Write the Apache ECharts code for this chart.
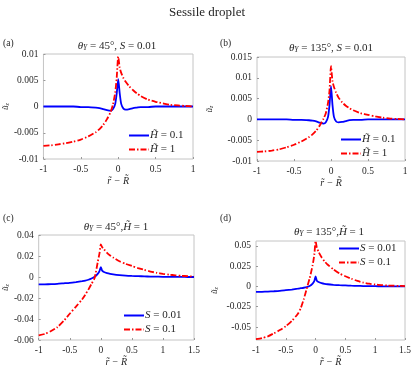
<!DOCTYPE html>
<html>
<head>
<meta charset="utf-8">
<script src="https://cdn.jsdelivr.net/npm/echarts@6/dist/echarts.min.js"></script>
<style>
  html, body { margin: 0; padding: 0; background: #fff; }
  #main { width: 415px; height: 368px; }
</style>
</head>
<body>
<div id="main"></div>
<script>
// x positions (r - R) for the top panels and the bottom panels
var xTop = [-1, -0.9, -0.8, -0.7, -0.6, -0.5, -0.4, -0.3, -0.25, -0.2, -0.15, -0.1, -0.07, -0.04, -0.02, 0,
  0.02, 0.04, 0.07, 0.1, 0.15, 0.2, 0.25, 0.3, 0.4, 0.5, 0.6, 0.7, 0.8, 0.9, 1];
var xBot = [-1, -0.9, -0.8, -0.7, -0.6, -0.5, -0.4, -0.3, -0.25, -0.2, -0.15, -0.1, -0.05, -0.02, 0,
  0.02, 0.05, 0.1, 0.15, 0.2, 0.3, 0.4, 0.5, 0.6, 0.7, 0.8, 0.9, 1, 1.1, 1.2, 1.3, 1.4, 1.5];

// (a) theta = 45, S = 0.01
var aH01 = [0, 0, 0, 0, 0, -0.0001, -0.0001, -0.0002, -0.0003, -0.0005, -0.0007, -0.0008, -0.0005, 0.0005, 0.0025, 0.0052,
  0.0025, 0.0005, -0.0004, -0.0006, -0.0005, -0.0003, -0.0002, -0.0001, -0.0001, 0, 0, 0, 0, 0, 0];
var aH1 = [-0.0075, -0.0074, -0.0072, -0.0070, -0.0067, -0.0063, -0.0057, -0.0049, -0.0043, -0.0035, -0.0024, -0.0010, 0.0004, 0.0027, 0.0055, 0.0095,
  0.0074, 0.0064, 0.0054, 0.0047, 0.0038, 0.0031, 0.0025, 0.0020, 0.0013, 0.0009, 0.0006, 0.0003, 0.0002, 0.0001, 0];
// (b) theta = 135, S = 0.01
var bH01 = [0, 0, 0, 0, 0, -0.0001, -0.0001, -0.0002, -0.0003, -0.0005, -0.0008, -0.0010, -0.0007, 0.0006, 0.0035, 0.0080,
  0.0035, 0.0006, -0.0005, -0.0007, -0.0006, -0.0004, -0.0002, -0.0001, -0.0001, 0, 0, 0, 0, 0, 0];
var bH1 = [-0.0078, -0.0077, -0.0075, -0.0072, -0.0067, -0.0061, -0.0053, -0.0043, -0.0036, -0.0027, -0.0014, 0.0002, 0.0015, 0.0040, 0.0070, 0.0128,
  0.0092, 0.0078, 0.0064, 0.0053, 0.0041, 0.0033, 0.0027, 0.0022, 0.0015, 0.0011, 0.0007, 0.0004, 0.0002, 0.0001, 0];
// (c) theta = 45, H = 1
var cS001 = [-0.0071, -0.0070, -0.0068, -0.0065, -0.0060, -0.0055, -0.0048, -0.0040, -0.0035, -0.0026, -0.0014, 0.0002, 0.0030, 0.0058, 0.0095,
  0.0062, 0.0048, 0.0037, 0.0030, 0.0025, 0.0018, 0.0013, 0.0010, 0.0008, 0.0006, 0.0004, 0.0003, 0.0002, 0.0002, 0.0001, 0.0001, 0, 0];
var cS01 = [-0.0556, -0.0542, -0.0515, -0.0478, -0.0420, -0.0350, -0.0282, -0.0212, -0.0168, -0.0120, -0.0066, -0.0010, 0.0140, 0.0230, 0.0310,
  0.0285, 0.0265, 0.0230, 0.0205, 0.0185, 0.0150, 0.0125, 0.0105, 0.0085, 0.0068, 0.0052, 0.0040, 0.0030, 0.0022, 0.0016, 0.0011, 0.0008, 0.0005];
// (d) theta = 135, H = 1
var dS001 = [-0.0068, -0.0066, -0.0063, -0.0059, -0.0054, -0.0046, -0.0038, -0.0028, -0.0022, -0.0016, -0.0008, 0.0005, 0.0035, 0.0070, 0.0125,
  0.0072, 0.0055, 0.0042, 0.0033, 0.0027, 0.0020, 0.0015, 0.0012, 0.0009, 0.0007, 0.0005, 0.0004, 0.0003, 0.0002, 0.0001, 0.0001, 0, 0];
var dS01 = [-0.0650, -0.0638, -0.0615, -0.0578, -0.0538, -0.0490, -0.0425, -0.0340, -0.0270, -0.0160, -0.0030, 0.0100, 0.0260, 0.0400, 0.0560,
  0.0480, 0.0425, 0.0360, 0.0310, 0.0270, 0.0210, 0.0160, 0.0125, 0.0095, 0.0068, 0.0048, 0.0034, 0.0024, 0.0017, 0.0012, 0.0009, 0.0007, 0.0005];

var dTicks = [-0.05, -0.025, 0, 0.025, 0.05];

var serif = 'Liberation Serif';
var txtColor = '#262626';
var blue = '#0000ff';
var red = '#ff0000';
var dashDot = [6, 2, 1.5, 2];

function pairs(xs, ys) {
  return xs.map(function (x, i) { return [x, ys[i]]; });
}

var grids = [
  { left: 43, top: 54, width: 150, height: 105 },
  { left: 257, top: 57, width: 148, height: 104 },
  { left: 34, top: 235, width: 160, height: 107 },
  { left: 256, top: 241, width: 149, height: 100 }
].map(function (g) {
  return Object.assign({ show: true, borderColor: '#c4c4c4', borderWidth: 1, backgroundColor: '#fff' }, g);
});

function xAx(idx, max) {
  return {
    gridIndex: idx, type: 'value', min: -1, max: max, interval: 0.5,
    axisLine: { show: false, onZero: false },
    axisTick: { inside: true, length: 2, lineStyle: { color: '#999' } },
    splitLine: { show: false },
    axisLabel: { fontFamily: serif, fontSize: 9.5, color: txtColor, margin: 5 },
    name: 'r\u0303 \u2212 R\u0303', nameLocation: 'middle', nameGap: 17,
    nameTextStyle: { fontFamily: serif, fontStyle: 'italic', fontSize: 10, color: txtColor }
  };
}

function yAx(idx, min, max, interval, gap, custom) {
  var ax = {
    gridIndex: idx, type: 'value', min: min, max: max,
    axisLine: { show: false, onZero: false },
    axisTick: { inside: true, length: 2, lineStyle: { color: '#999' } },
    splitLine: { show: false },
    axisLabel: { fontFamily: serif, fontSize: 9.5, color: txtColor, margin: 5 },
    name: '{u|\u0169}{z|z}', nameLocation: 'middle', nameRotate: 90, nameGap: gap,
    nameTextStyle: {
      color: txtColor,
      rich: {
        u: { fontFamily: serif, fontStyle: 'italic', fontSize: 9, color: txtColor },
        z: { fontFamily: serif, fontStyle: 'italic', fontSize: 6, color: txtColor, verticalAlign: 'bottom' }
      }
    }
  };
  if (custom) {
    ax.axisTick.customValues = custom;
    ax.axisLabel.customValues = custom;
  } else {
    ax.interval = interval;
  }
  return ax;
}

function line(name, idx, xs, ys, color, dashed) {
  return {
    name: name, type: 'line', xAxisIndex: idx, yAxisIndex: idx,
    data: pairs(xs, ys), showSymbol: false, symbol: 'none', smooth: 0.2,
    lineStyle: { color: color, width: 1.8, type: dashed ? dashDot : 'solid' },
    itemStyle: { color: color }, animation: false
  };
}

var legendRich = {
  i: { fontFamily: serif, fontStyle: 'italic', fontSize: 11, color: txtColor },
  n: { fontFamily: serif, fontSize: 11, color: txtColor }
};
var legendText = {
  aH01: '{i|H\u0303}{n| = 0.1}', aH1: '{i|H\u0303}{n| = 1}',
  bH01: '{i|H\u0303}{n| = 0.1}', bH1: '{i|H\u0303}{n| = 1}',
  cS001: '{i|S}{n| = 0.01}', cS01: '{i|S}{n| = 0.1}',
  dS001: '{i|S}{n| = 0.01}', dS01: '{i|S}{n| = 0.1}'
};
function legend(names, left, top) {
  return {
    data: names, left: left, top: top, orient: 'vertical',
    itemWidth: 20, itemHeight: 9, itemGap: 3, padding: 0,
    selectedMode: false,
    itemStyle: { opacity: 0 },
    formatter: function (n) { return legendText[n]; },
    textStyle: { rich: legendRich, padding: [0, 0, 0, -4] }
  };
}

var titleRich = {
  i: { fontFamily: serif, fontStyle: 'italic', fontSize: 11, fill: txtColor },
  s: { fontFamily: serif, fontStyle: 'italic', fontSize: 7.5, fill: txtColor, verticalAlign: 'bottom', padding: [5, 0, 0, 0] },
  n: { fontFamily: serif, fontSize: 11, fill: txtColor }
};
function label(text, x, y, size, align) {
  return {
    type: 'text', x: x, y: y, silent: true,
    style: { text: text, font: size + 'px ' + serif, fill: txtColor, align: align || 'left', verticalAlign: 'middle', rich: titleRich }
  };
}

var option = {
  backgroundColor: '#fff',
  animation: false,
  grid: grids,
  xAxis: [xAx(0, 1), xAx(1, 1), xAx(2, 1.5), xAx(3, 1.5)],
  yAxis: [
    yAx(0, -0.01, 0.01, 0.005, 33),
    yAx(1, -0.01, 0.015, 0.005, 43),
    yAx(2, -0.06, 0.04, 0.02, 26),
    yAx(3, -0.066, 0.056, null, 37, dTicks)
  ],
  legend: [
    legend(['aH01', 'aH1'], 128, 130),
    legend(['bH01', 'bH1'], 340, 134),
    legend(['cS001', 'cS01'], 123, 310),
    legend(['dS001', 'dS01'], 338, 243)
  ],
  series: [
    line('aH01', 0, xTop, aH01, blue, false),
    line('aH1', 0, xTop, aH1, red, true),
    line('bH01', 1, xTop, bH01, blue, false),
    line('bH1', 1, xTop, bH1, red, true),
    line('cS001', 2, xBot, cS001, blue, false),
    line('cS01', 2, xBot, cS01, red, true),
    line('dS001', 3, xBot, dS001, blue, false),
    line('dS01', 3, xBot, dS01, red, true)
  ],
  graphic: [
    label('Sessile droplet', 207, 13, 13, 'center'),
    label('(a)', 3, 43, 9.5),
    label('(b)', 220, 43, 9.5),
    label('(c)', 3, 218, 9.5),
    label('(d)', 220, 218, 9.5),
    label('{i|\u03b8}{s|Y}{n| = 45°, }{i|S}{n| = 0.01}', 117, 46, 11, 'center'),
    label('{i|\u03b8}{s|Y}{n| = 135°, }{i|S}{n| = 0.01}', 331, 48, 11, 'center'),
    label('{i|\u03b8}{s|Y}{n| = 45°,}{i|H\u0303}{n| = 1}', 116, 227, 11, 'center'),
    label('{i|\u03b8}{s|Y}{n| = 135°,}{i|H\u0303}{n| = 1}', 329, 232, 11, 'center')
  ]
};

echarts.init(document.getElementById('main')).setOption(option);
</script>
</body>
</html>
